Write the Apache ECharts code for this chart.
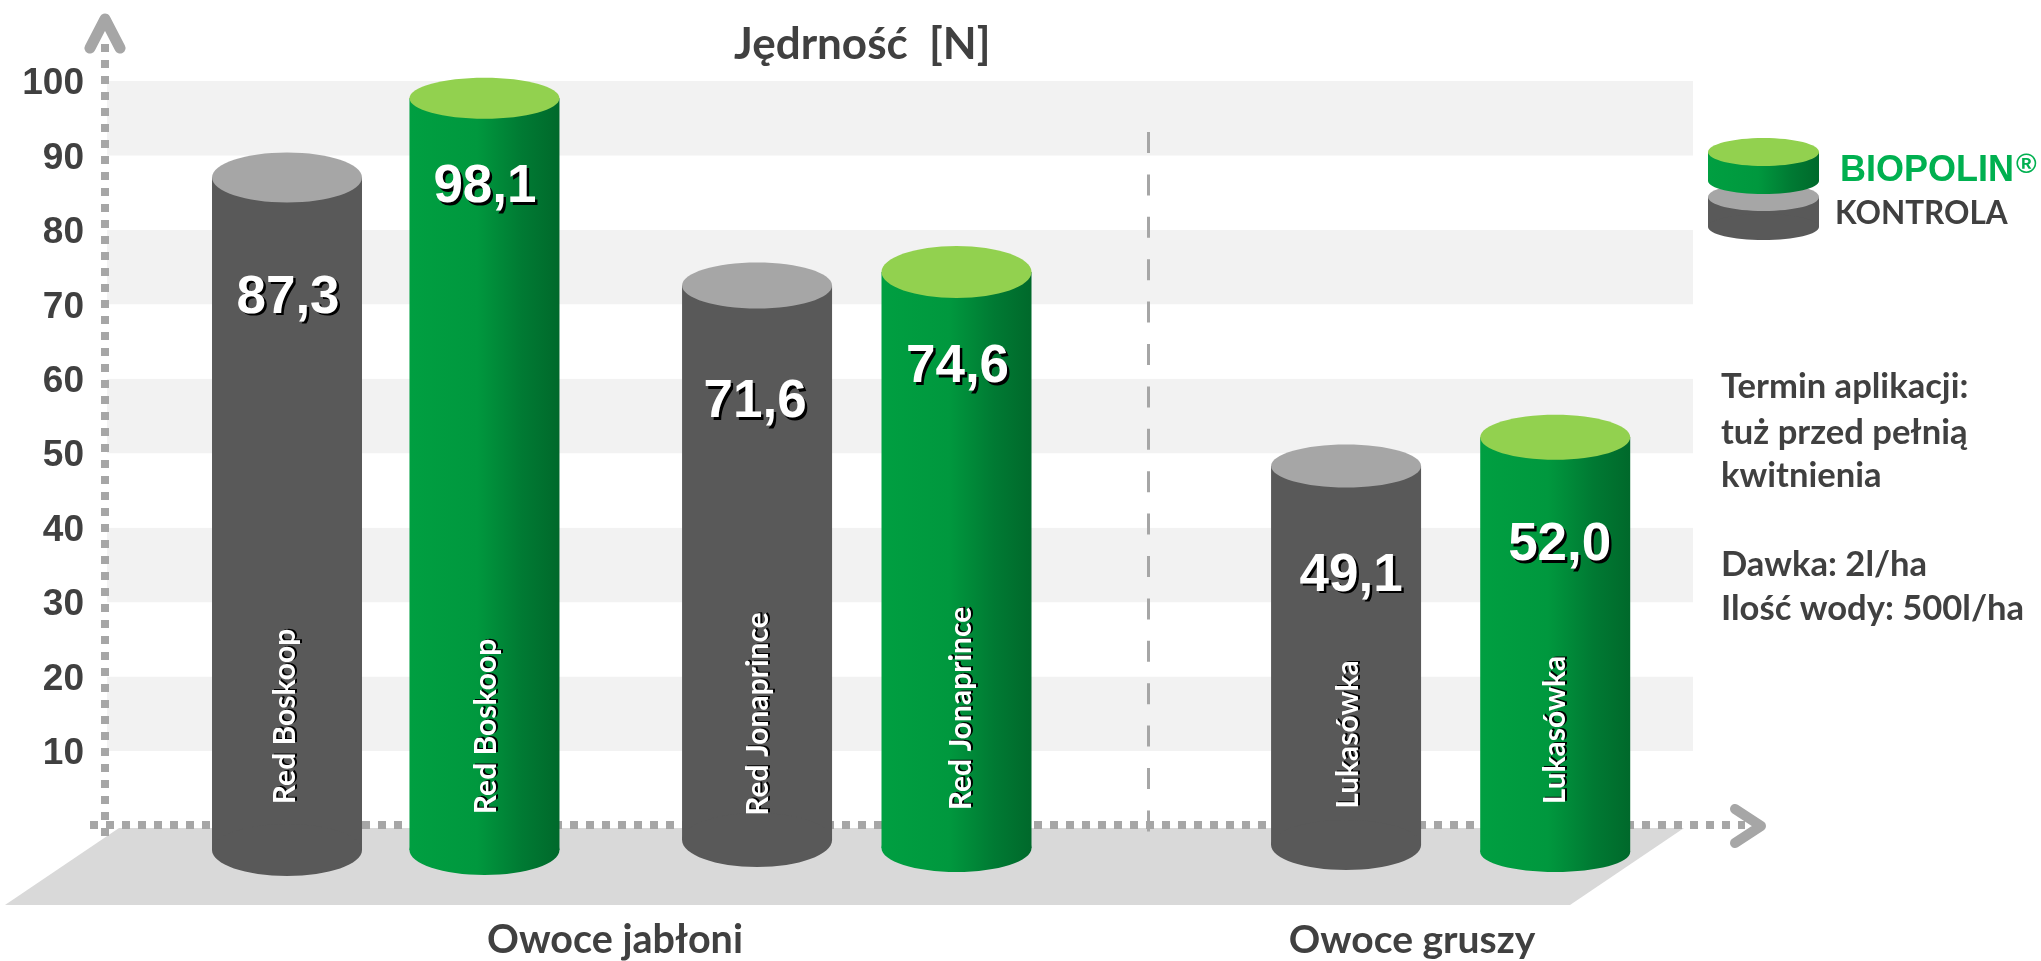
<!DOCTYPE html>
<html>
<head>
<meta charset="utf-8">
<title>Jędrność [N]</title>
<script src="https://cdn.jsdelivr.net/npm/echarts@6/dist/echarts.min.js"></script>
<style>
html, body {margin:0; padding:0; background:#fff;}
#chart {width:2041px; height:961px;}
</style>
</head>
<body>
<div id="chart"></div>
<script>
// data
var varieties = ['Red Boskoop', 'Red Jonaprince', 'Lukasówka'];
var kontrola = [87.3, 71.6, 49.1];
var biopolin = [98.1, 74.6, 52.0];
var kontrolaSlots = [0.908, 3.279, 6.25];   // position along the hidden x axis
var biopolinSlots = [1.904, 4.285, 7.305];
var yTicks = [10, 20, 30, 40, 50, 60, 70, 80, 90, 100];
var noteLines = ['Termin aplikacji:', 'tuż przed pełnią', 'kwitnienia', 'Dawka: 2l/ha', 'Ilość wody: 500l/ha'];

// per cylinder drawing tweaks in px, the picture is hand drawn and not quite regular
var kontrolaLook = [
    {capRy:25, capShift:2, footDrop:24.5, footRy:26, valDx:1, valDy:120.5, nameDx:-2, nameDy:-109},
    {capRy:23, capShift:-7, footDrop:14.5, footRy:27, valDx:-2, valDy:117, nameDx:1, nameDy:-111.5},
    {capRy:21.5, capShift:6, footDrop:19.5, footRy:25, valDx:5, valDy:110, nameDx:2, nameDy:-91}
];
var biopolinLook = [
    {capRy:20.5, capShift:3, footDrop:24.5, footRy:25, valDx:0.5, valDy:89.5, nameDx:1.5, nameDy:-99},
    {capRy:26, capShift:2, footDrop:22.5, footRy:24, valDx:1, valDy:95.5, nameDx:5, nameDy:-117},
    {capRy:22.5, capShift:-1, footDrop:26.5, footRy:20, valDx:4.5, valDy:108.5, nameDx:0.5, nameDy:-95.5}
];

var TEXT = '#404040';
var DOTS = '#a6a6a6';
var LATO = 'Lato, "Open Sans", sans-serif';
var ARIAL = '"Liberation Sans", Arial, sans-serif';
var BAR_RX = 75;

function greenFill() {
    return new echarts.graphic.LinearGradient(0, 0, 1, 0, [
        {offset:0, color:'#009f41'},
        {offset:0.45, color:'#00983e'},
        {offset:0.75, color:'#007a33'},
        {offset:1, color:'#00692b'}
    ]);
}

function cylinder(cx, topY, footY, capRy, footRy, rx, side, cap) {
    return [
        {type:'rect', shape:{x:cx - rx, y:topY, width:rx * 2, height:footY - topY}, style:{fill:side}},
        {type:'ellipse', shape:{cx:cx, cy:footY, rx:rx, ry:footRy}, style:{fill:side}},
        {type:'ellipse', shape:{cx:cx, cy:topY, rx:rx, ry:capRy}, style:{fill:cap}}
    ];
}

function cylinderSeries(name, values, slots, look, side, cap) {
    return {
        name: name,
        type: 'custom',
        z: 5,
        clip: false,
        data: values.map(function (v, i) { return [slots[i], v, i]; }),
        encode: {x:0, y:1},
        renderItem: function (params, api) {
            var i = api.value(2);
            var l = look[i];
            var top = api.coord([api.value(0), api.value(1)]);
            var base = api.coord([api.value(0), 0]);
            var cx = top[0];
            var topY = top[1] + l.capShift;
            var children = cylinder(cx, topY, base[1] + l.footDrop, l.capRy, l.footRy, BAR_RX, side(), cap);
            children.push({
                type:'text', x:cx + l.valDx, y:topY + l.valDy,
                style:{
                    text:api.value(1).toFixed(1).replace('.', ','), fill:'#fff',
                    font:'bold 53px ' + ARIAL, align:'center', verticalAlign:'middle',
                    textShadowColor:'#000', textShadowOffsetX:2.5, textShadowOffsetY:2.5, textShadowBlur:0.1
                }
            });
            children.push({
                type:'text', x:cx + l.nameDx, y:base[1] + l.nameDy, rotation:Math.PI / 2,
                style:{
                    text:varieties[i], fill:'#fff',
                    font:'bold 30px ' + LATO, align:'center', verticalAlign:'middle',
                    textShadowColor:'#000', textShadowOffsetX:2, textShadowOffsetY:-1, textShadowBlur:0.1
                }
            });
            return {type:'group', children:children};
        }
    };
}

function plainText(text, x, y, font, color, align) {
    return {
        type:'text', x:x, y:y, z:6,
        style:{text:text, fill:color, font:font, align:align || 'left', verticalAlign:'middle'}
    };
}

var grey = function () { return '#595959'; };

var graphics = [
    // floor
    {type:'polygon', z:0, shape:{points:[[119, 828], [1684, 828], [1570, 905], [5, 905]]}, style:{fill:'#d9d9d9'}},
    // dotted axes with arrows
    {type:'line', z:1, shape:{x1:105, y1:44, x2:105, y2:836}, style:{stroke:DOTS, lineWidth:8, lineDash:[8, 8]}},
    {type:'line', z:1, shape:{x1:90, y1:825, x2:1745, y2:825}, style:{stroke:DOTS, lineWidth:8, lineDash:[8, 8]}},
    {type:'polyline', z:1, shape:{points:[[90, 48], [105, 19], [120, 48]]}, style:{stroke:DOTS, fill:null, lineWidth:11, lineCap:'round', lineJoin:'round'}},
    {type:'polyline', z:1, shape:{points:[[1735, 809], [1761, 826], [1735, 843]]}, style:{stroke:DOTS, fill:null, lineWidth:10, lineCap:'round', lineJoin:'round'}},
    // divider between apples and pears
    {type:'line', z:1, shape:{x1:1148.5, y1:132, x2:1148.5, y2:832}, style:{stroke:DOTS, lineWidth:3, lineDash:[21, 21.4]}},
    plainText('Owoce jabłoni', 615, 940, 'bold 39.5px ' + LATO, TEXT, 'center'),
    plainText('Owoce gruszy', 1412, 940, 'bold 39px ' + LATO, TEXT, 'center'),
    plainText('BIOPOLIN', 1840, 171, 'bold 36px ' + ARIAL, '#00b050'),
    plainText('®', 2016, 165, 'bold 28px ' + ARIAL, '#00b050'),
    plainText('KONTROLA', 1835, 214, 'bold 31.5px ' + LATO, TEXT)
];

// legend cylinders
cylinder(1763.5, 197, 227, 14, 13, 55.5, '#595959', '#a6a6a6').concat(
    cylinder(1763.5, 152, 181, 14, 13, 55.5, greenFill(), '#92d14f')
).forEach(function (el) {
    el.z = 3;
    graphics.push(el);
});

var noteY = [387, 433, 476, 565, 609];
noteLines.forEach(function (line, i) {
    graphics.push(plainText(line, 1721, noteY[i], 'bold 34.6px ' + LATO, TEXT));
});

var chart = echarts.init(document.getElementById('chart'));
chart.setOption({
    animation: false,
    backgroundColor: '#fff',
    title: {
        text: 'Jędrność  [N]',
        left: 729,
        top: 18,
        textStyle: {color:TEXT, fontFamily:'Lato, "Open Sans", sans-serif', fontWeight:'bold', fontSize:44}
    },
    grid: {left:107, right:348, top:81, bottom:135.5},
    xAxis: {type:'value', min:0, max:8, show:false},
    yAxis: {
        type: 'value',
        min: 0,
        max: 100,
        interval: 10,
        axisLine: {show:false},
        axisTick: {show:false},
        splitLine: {show:false},
        splitArea: {show:true, areaStyle:{color:['#ffffff', '#f2f2f2']}},
        axisLabel: {
            margin: 23,
            verticalAlign: 'top',
            lineHeight: 6,
            color: TEXT,
            fontFamily: '"Liberation Sans", Arial, sans-serif',
            fontWeight: 'bold',
            fontSize: 37,
            formatter: function (v) { return yTicks.indexOf(v) >= 0 ? String(v) : ''; }
        }
    },
    series: [
        cylinderSeries('KONTROLA', kontrola, kontrolaSlots, kontrolaLook, grey, '#a6a6a6'),
        cylinderSeries('BIOPOLIN', biopolin, biopolinSlots, biopolinLook, greenFill, '#92d14f')
    ],
    graphic: graphics
});
</script>
</body>
</html>
